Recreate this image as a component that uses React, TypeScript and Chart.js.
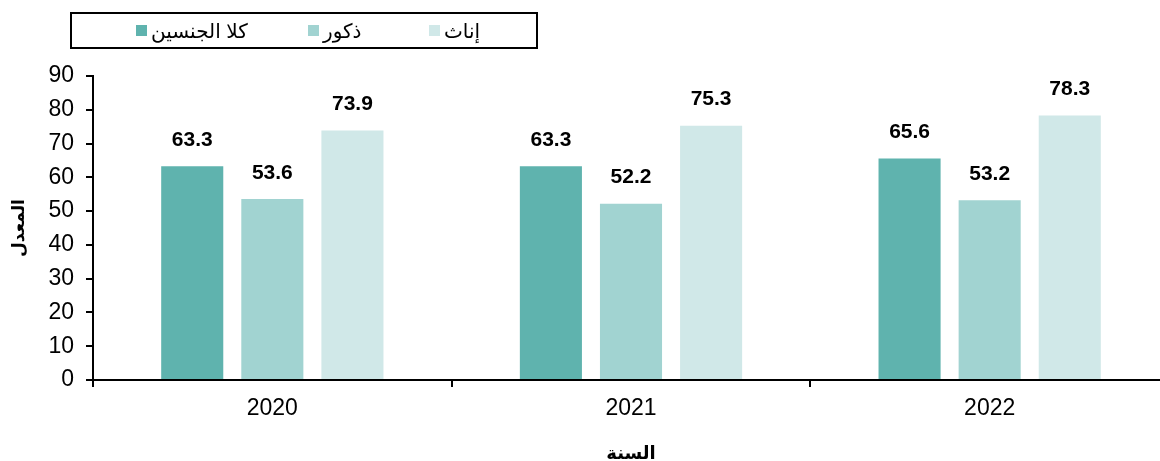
import React, { useEffect, useRef } from "react";
import { Chart, registerables } from "chart.js";

Chart.register(...registerables);

const categories = ["2020", "2021", "2022"];
const seriesNames = ["كلا الجنسين", "ذكور", "إناث"];
const bothSexes = [63.3, 63.3, 65.6];
const males = [53.6, 52.2, 53.2];
const females = [73.9, 75.3, 78.3];
const seriesColors = ["#5fb3ae", "#a1d3d1", "#d0e8e8"];
const yTitle = "المعدل";
const xTitle = "السنة";

const FONT = "'Liberation Sans', Arial, 'DejaVu Sans', sans-serif";

const labelPlugin = {
  id: "valueLabels",
  afterDatasetsDraw(chart: any) {
    const ctx = chart.ctx;
    ctx.save();
    ctx.font = `bold 21px ${FONT}`;
    ctx.fillStyle = "#000";
    ctx.textAlign = "center";
    ctx.textBaseline = "middle";
    chart.data.datasets.forEach((ds: any, i: number) => {
      const meta = chart.getDatasetMeta(i);
      meta.data.forEach((el: any, j: number) => {
        ctx.fillText(Number(ds.data[j]).toFixed(1), el.x, el.y - 26);
      });
    });
    ctx.restore();
  },
};

export default function App() {
  const ref = useRef<HTMLCanvasElement>(null);
  useEffect(() => {
    const chart = new Chart(ref.current!, {
      type: "bar",
      data: {
        labels: categories,
        datasets: [bothSexes, males, females].map((d, i) => ({
          label: seriesNames[i],
          data: d,
          backgroundColor: seriesColors[i],
          borderWidth: 0,
          categoryPercentage: 0.67,
          barPercentage: 0.775,
        })),
      },
      options: {
        responsive: false,
        animation: false,
        layout: { padding: { top: 76, right: 1, left: 0, bottom: 0 } },
        plugins: {
          legend: { display: false },
          tooltip: { enabled: false },
        },
        scales: {
          x: {
            grid: {
              display: true,
              drawOnChartArea: false,
              drawTicks: true,
              tickLength: 7,
              color: "#000",
              lineWidth: 2,
              offset: true,
            },
            border: { color: "#000", width: 2 },
            ticks: { color: "#000", font: { family: FONT, size: 23 }, padding: 8 },
            title: {
              display: true,
              text: xTitle,
              color: "#000",
              font: { family: FONT, size: 18, weight: "bold" },
              padding: { top: 16, bottom: -4 },
            },
            afterFit(scale: any) {
              scale.height = 81;
            },
          },
          y: {
            min: 0,
            max: 90,
            ticks: { stepSize: 10, color: "#000", font: { family: FONT, size: 23 }, padding: 12 },
            grid: {
              display: true,
              drawOnChartArea: false,
              drawTicks: true,
              tickLength: 7,
              color: "#000",
              lineWidth: 2,
            },
            border: { color: "#000", width: 2 },
            title: {
              display: true,
              text: yTitle,
              color: "#000",
              font: { family: FONT, size: 17, weight: "bold" },
              padding: { top: 9, bottom: 0 },
            },
            afterFit(scale: any) {
              scale.width = 93;
            },
          },
        },
      },
      plugins: [labelPlugin],
    });
    return () => chart.destroy();
  }, []);

  const swatchLeft = [64, 236, 357];
  return (
    <div style={{ position: "absolute", left: 0, top: 0, width: 1160, height: 461, overflow: "hidden", background: "#fff" }}>
      <canvas ref={ref} width={1170} height={461} style={{ display: "block" }} />
      <div
        style={{
          position: "absolute",
          left: 70,
          top: 12,
          width: 464,
          height: 33,
          border: "2px solid #000",
          fontFamily: FONT,
          fontSize: 20,
          color: "#000",
        }}
      >
        {seriesNames.map((n, i) => (
          <div
            key={n}
            style={{
              position: "absolute",
              left: swatchLeft[i],
              top: 0,
              height: 33,
              display: "flex",
              alignItems: "center",
              whiteSpace: "nowrap",
            }}
          >
            <span style={{ display: "inline-block", width: 11, height: 11, background: seriesColors[i], marginRight: 4 }} />
            <span style={{ direction: "rtl" }}>{n}</span>
          </div>
        ))}
      </div>
    </div>
  );
}
